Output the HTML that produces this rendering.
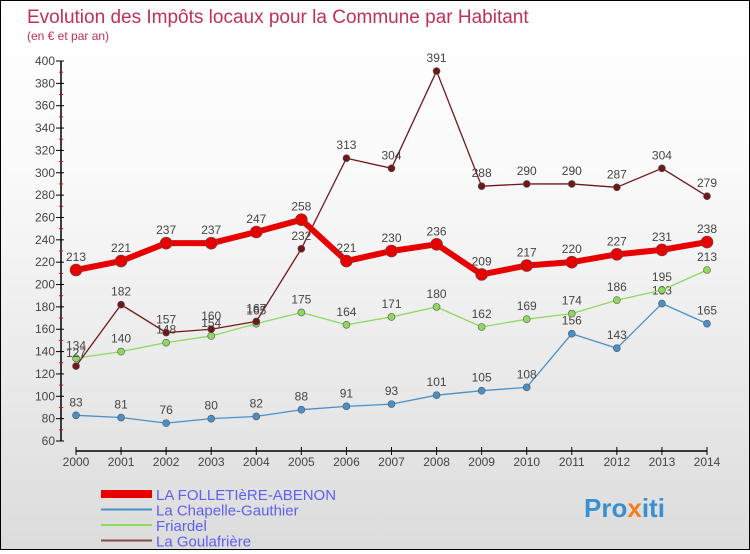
<!DOCTYPE html>
<html><head><meta charset="utf-8"><style>
body{margin:0}
#wrap{width:748px;height:548px;border:1px solid #000;background:linear-gradient(#fff,#fafafa 30%,#dcdcdc);position:relative;font-family:"Liberation Sans",sans-serif}
svg text{font-family:"Liberation Sans",sans-serif}
</style></head><body>
<div id="wrap">
<svg id="c" width="748" height="548">
<text x="26" y="22" font-size="19" fill="#c0305a">Evolution des Impôts locaux pour la Commune par Habitant</text>
<text x="26" y="39" font-size="12" fill="#c0305a">(en € et par an)</text>
<g id="axes"></g><g id="series"></g><g id="legend"></g>
<text x="583" y="516" font-size="26" font-weight="bold" fill="#3a8fd0">Pro<tspan fill="#f08020">x</tspan>iti</text>
</svg></div>
<script>
const years=[2000,2001,2002,2003,2004,2005,2006,2007,2008,2009,2010,2011,2012,2013,2014];
const yTicks=[60,80,100,120,140,160,180,200,220,240,260,280,300,320,340,360,380,400];
const folletiere=[213,221,237,237,247,258,221,230,236,209,217,220,227,231,238];
const chapelle=[83,81,76,80,82,88,91,93,101,105,108,156,143,183,165];
const friardel=[134,140,148,154,165,175,164,171,180,162,169,174,186,195,213];
const goulafriere=[127,182,157,160,167,232,313,304,391,288,290,290,287,304,279];
const NS="http://www.w3.org/2000/svg";
const xS=i=>75+i*(631/14);
const yS=v=>440-(v-60)*380/340;
function mk(tag,at,parent){const e=document.createElementNS(NS,tag);for(const k in at)e.setAttribute(k,at[k]);parent.appendChild(e);return e;}
const ax=document.getElementById('axes');
let l=mk('line',{x1:60,y1:60,x2:60,y2:440,stroke:'#000','stroke-width':1.5},ax);


yTicks.forEach(v=>{
 mk('line',{x1:55,y1:yS(v),x2:63,y2:yS(v),stroke:'#000'},ax);
 if(v<400)mk('line',{x1:58,y1:yS(v+10),x2:62,y2:yS(v+10),stroke:'#e00'},ax);
 const t=mk('text',{x:54,y:yS(v)+4,'font-size':12,fill:'#444','text-anchor':'end'},ax);t.textContent=v;
 
 
});
l=mk('line',{x1:75,y1:450,x2:706,y2:450,stroke:'#000','stroke-width':1.5},ax);


years.forEach((y,i)=>{
 mk('line',{x1:xS(i),y1:446,x2:xS(i),y2:454,stroke:'#000'},ax);
 const t=mk('text',{x:xS(i),y:465,'font-size':12,fill:'#444','text-anchor':'middle'},ax);t.textContent=y;
 
 
});
const sg=document.getElementById('series');
function draw(data,color,w,r,name){
 const g=mk('g',{},sg);
 
 
 const p=mk('polyline',{points:data.map((v,i)=>xS(i)+','+yS(v)).join(' '),fill:'none',stroke:color,'stroke-width':w,'stroke-linejoin':'round'},g);
 
 
 data.forEach((v,i)=>{
  const c=mk('circle',{cx:xS(i),cy:yS(v),r:r,fill:color,stroke:'#555','stroke-width':0.6},g);
  
  
  const t=mk('text',{x:xS(i),y:yS(v)-9,'font-size':12,fill:'#444','text-anchor':'middle'},g);t.textContent=v;
  
  
 });
}
draw(chapelle,'#4a90c8',1.3,3.5,'chapelle');
draw(friardel,'#8ed860',1.3,3.5,'friardel');
draw(goulafriere,'#701818',1.3,3.5,'goulafriere');
draw(folletiere,'#e80000',6,6,'folletiere');
const lg=document.getElementById('legend');
const items=[['LA FOLLETIèRE-ABENON','#e80000',8],['La Chapelle-Gauthier','#4a90c8',2],['Friardel','#8ed860',2],['La Goulafrière','#8b4a4a',2]];
items.forEach((it,i)=>{
 const y=493+i*15.5;
 const g=mk('g',{},lg);
 
 
 mk('line',{x1:100,y1:y,x2:151,y2:y,stroke:it[1],'stroke-width':it[2]},g);
 const t=mk('text',{x:155,y:y+6,'font-size':15,fill:'#6060f0'},g);t.textContent=it[0];
});
</script></body></html>
